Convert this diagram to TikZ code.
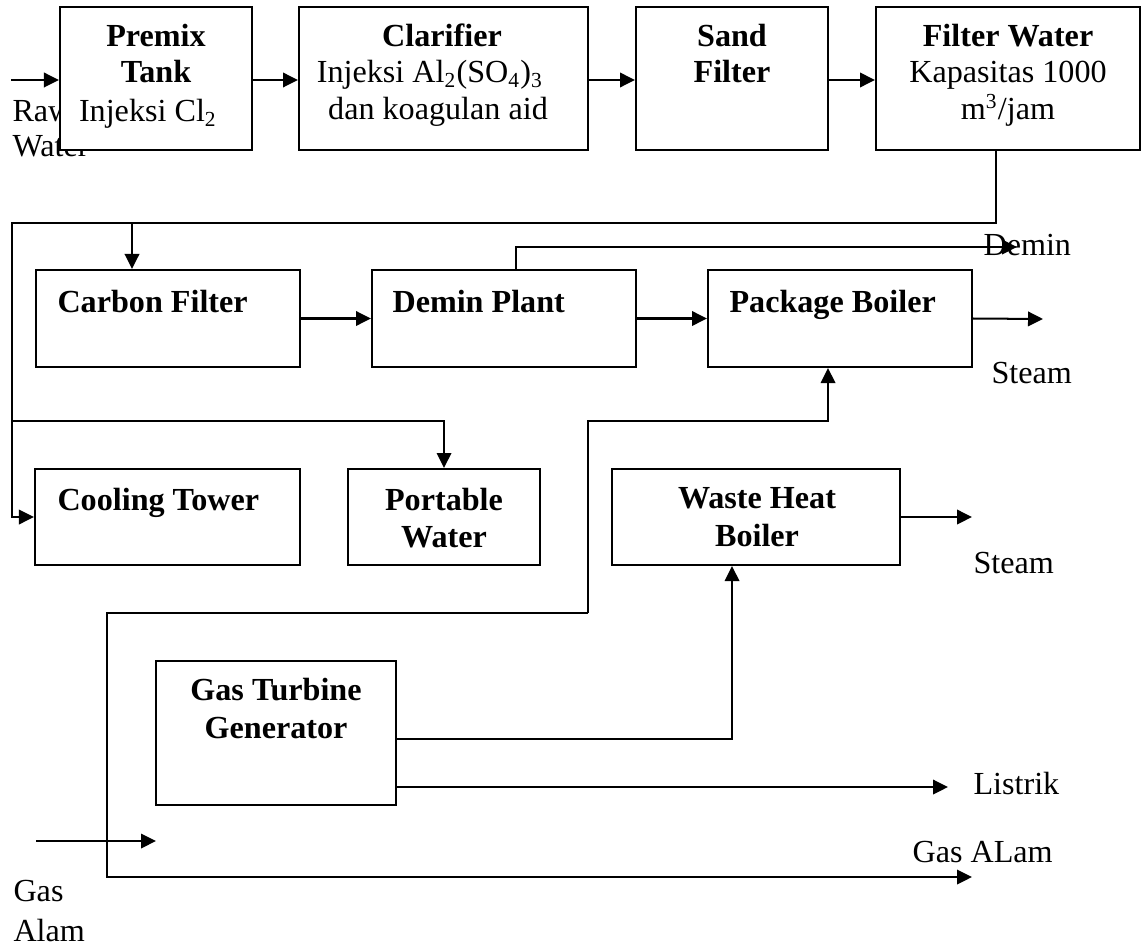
\documentclass[tikz,border=0pt]{standalone}
\usepackage{fontspec}
\setmainfont{Liberation Serif}
\usetikzlibrary{arrows.meta,fit}
\begin{document}
\begin{tikzpicture}[x=0.3733pt,y=-0.3733pt,
  box/.style={draw,line width=0.75pt,fill=white,inner sep=0pt},
  ln/.style={line width=0.75pt},
  arr/.style={line width=0.75pt,-{Triangle[length=5.6pt,width=5.4pt]}},
  bt/.style={font=\fontsize{12pt}{13.8pt}\selectfont\bfseries,inner sep=0pt,anchor=base},
  btw/.style={font=\fontsize{12pt}{13.8pt}\selectfont\bfseries,inner sep=0pt,anchor=base west},
  nt/.style={font=\fontsize{12pt}{13.8pt}\selectfont,inner sep=0pt,anchor=base},
  lt/.style={font=\fontsize{12pt}{13.8pt}\selectfont,inner sep=0pt,anchor=base west}]
\useasboundingbox[fill=white] (0,0) rectangle (1143,948);

% free labels (drawn first, boxes and arrows may cover them)
\node[lt] (lraw) at (12,122) {Raw};
\node[lt] (lwater) at (12,157) {Water};
\node[lt] (ldemin) at (983,255) {Demin};
\node[lt] (lsteam1) at (991,383) {Steam};
\node[lt] (lsteam2) at (973,573) {Steam};
\node[lt] (llistrik) at (973,794) {Listrik};
\node[lt] (lgasalam) at (912,862) {Gas ALam};
\node[lt] (lgas) at (13,901) {Gas};
\node[lt] (lalam) at (13,941) {Alam};

% boxes
\node[box,fit={(60,7)(252,150)}] (premix) {};
\node[box,fit={(299,7)(588,150)}] (clar) {};
\node[box,fit={(636,7)(828,150)}] (sand) {};
\node[box,fit={(876,7)(1140,150)}] (filter) {};
\node[box,fit={(36,270)(300,367)}] (cf) {};
\node[box,fit={(372,270)(636,367)}] (demin) {};
\node[box,fit={(708,270)(972,367)}] (pb) {};
\node[box,fit={(35,469)(300,565)}] (ct) {};
\node[box,fit={(348,469)(540,565)}] (pw) {};
\node[box,fit={(612,469)(900,565)}] (whb) {};
\node[box,fit={(156,661)(396,805)}] (gtg) {};

% box texts
\node[bt] (t1a) at (156,47) {Premix};
\node[bt] (t1b) at (156,83) {Tank};
\node[nt] (t1c) at (148,122) {Injeksi Cl\textsubscript{2}};
\node[bt] (t2a) at (442,47) {Clarifier};
\node[nt] (t2b) at (430,83) {Injeksi Al\textsubscript{2}(SO\textsubscript{4})\textsubscript{3}};
\node[nt] (t2c) at (438,120) {dan koagulan aid};
\node[bt] (t3a) at (732,47) {Sand};
\node[bt] (t3b) at (732,83) {Filter};
\node[bt] (t4a) at (1008,47) {Filter Water};
\node[nt] (t4b) at (1008,83) {Kapasitas 1000};
\node[nt] (t4c) at (1008,120) {m\textsuperscript{3}/jam};
\node[btw] (t5) at (57,312) {Carbon Filter};
\node[btw] (t6) at (392,312) {Demin Plant};
\node[btw] (t7) at (729,312) {Package Boiler};
\node[btw] (t8) at (57,510) {Cooling Tower};
\node[bt] (t9a) at (444,510) {Portable};
\node[bt] (t9b) at (444,547) {Water};
\node[bt] (t10a) at (757,508) {Waste Heat};
\node[bt] (t10b) at (757,546) {Boiler};
\node[bt] (t11a) at (276,700) {Gas Turbine};
\node[bt] (t11b) at (276,738) {Generator};

% helper coordinates
\coordinate (rawin) at (11,80);
\coordinate (fwd) at (996,223);
\coordinate (lt) at (12,223);
\coordinate (cfin) at (132,223);
\coordinate (br) at (12,421);
\coordinate (dm) at (516,247);
\coordinate (demout) at (1017,247);
\coordinate (st1) at (1043,319);
\coordinate (st2) at (972,517);
\coordinate (ga) at (588,613);
\coordinate (gb) at (828,421);
\coordinate (g1) at (107,877);
\coordinate (gasout) at (972,877);
\coordinate (w1) at (732,739);
\coordinate (li) at (948,787);
\coordinate (gin) at (36,841);
\coordinate (gtip) at (156,841);

% connectors
\draw[arr] (rawin) -- (rawin -| premix.west);
\draw[arr] (premix.east |- rawin) -- (rawin -| clar.west);
\draw[arr] (clar.east |- rawin) -- (rawin -| sand.west);
\draw[arr] (sand.east |- rawin) -- (rawin -| filter.west);
\draw[arr] (fwd |- filter.south) -- (fwd) -- (lt) |- (ct.west);
\draw[arr] (cfin) -- (cfin |- cf.north);
\draw[arr] (br) -| (pw.north);
\draw[arr] (cf.east) -- (demin.west);
\draw[arr] (demin.east) -- (pb.west);
\draw[arr] (dm |- demin.north) -- (dm) -- (demout);
\draw[arr] (pb.east) -- (st1);
\draw[arr] (whb.east) -- (st2);
\draw[arr] (ga) |- (gb) -- (gb |- pb.south);
\draw[arr] (ga) -- (ga -| g1) -- (g1) -- (gasout);
\draw[arr] (w1 -| gtg.east) -- (w1) -- (w1 |- whb.south);
\draw[arr] (li -| gtg.east) -- (li);
\draw[arr] (gin) -- (gtip);
\end{tikzpicture}
\end{document}
